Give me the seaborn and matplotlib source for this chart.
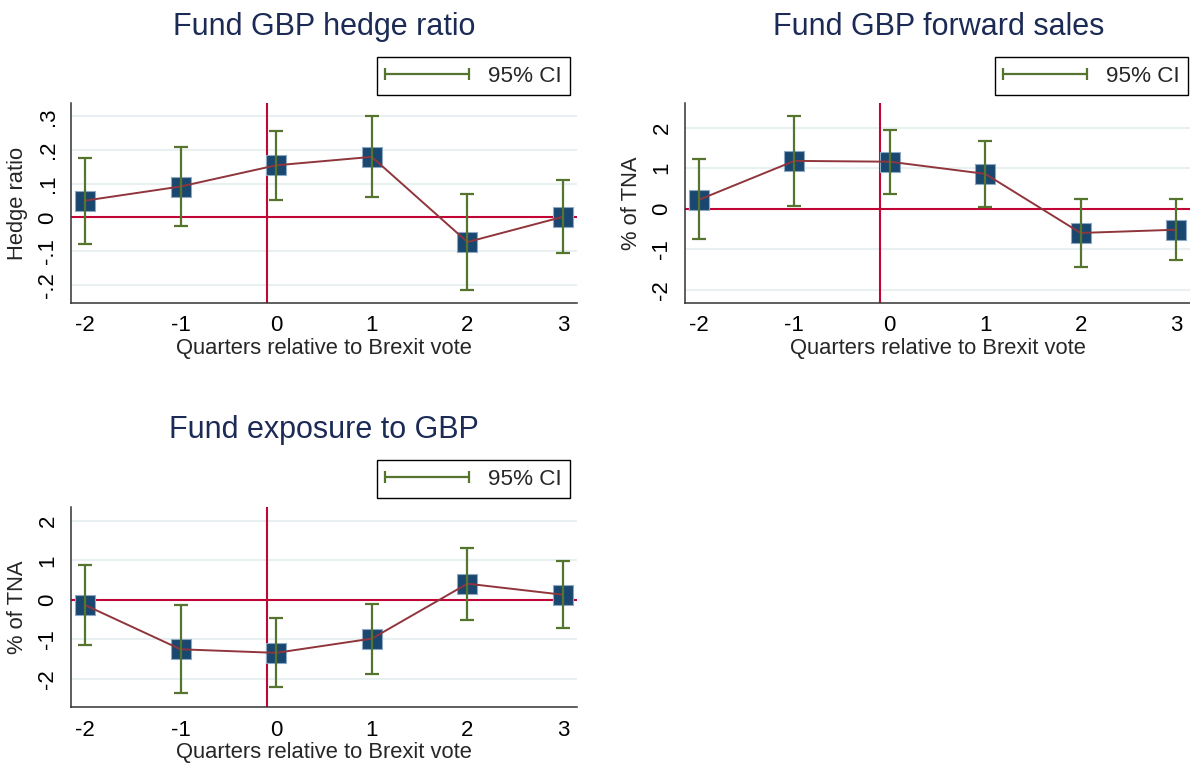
import numpy as np
import pandas as pd
import matplotlib
matplotlib.use("Agg")
import matplotlib.pyplot as plt
import seaborn as sns
from matplotlib.lines import Line2D
from matplotlib.legend_handler import HandlerLine2D

sns.set_style("white")
plt.rcParams['font.family'] = ['Liberation Sans', 'DejaVu Sans']

quarters = [-2, -1, 0, 1, 2, 3]

hedge_coef = [0.050, 0.092, 0.155, 0.180, -0.073, 0.002]
hedge_lo = [-0.078, -0.025, 0.051, 0.062, -0.215, -0.106]
hedge_hi = [0.177, 0.210, 0.258, 0.300, 0.069, 0.111]

fwd_coef = [0.22, 1.18, 1.16, 0.86, -0.60, -0.52]
fwd_lo = [-0.76, 0.07, 0.36, 0.03, -1.45, -1.26]
fwd_hi = [1.23, 2.28, 1.95, 1.68, 0.25, 0.25]

exp_coef = [-0.13, -1.25, -1.34, -0.98, 0.41, 0.13]
exp_lo = [-1.13, -2.36, -2.20, -1.87, -0.50, -0.71]
exp_hi = [0.87, -0.13, -0.47, -0.10, 1.32, 0.98]

titles = ["Fund GBP hedge ratio", "Fund GBP forward sales", "Fund exposure to GBP"]
ylabels = ["Hedge ratio", "% of TNA", "% of TNA"]
xlabel = "Quarters relative to Brexit vote"
legend_label = "95% CI"
hedge_ticks = [-0.2, -0.1, 0, 0.1, 0.2, 0.3]
hedge_ticklabels = ["-.2", "-.1", "0", ".1", ".2", ".3"]
tna_ticks = [-2, -1, 0, 1, 2]
tna_ticklabels = ["-2", "-1", "0", "1", "2"]
event_x = -0.1

W, H = 1190, 766
fig = plt.figure(figsize=(W / 100, H / 100), dpi=100)

NAVY = "#1a476f"
MAROON = "#90353b"
GREEN = "#55752f"
RED = "#c10534"
TITLE = "#1c2b55"
GRID = "#e8f0f2"
AXC = "#333333"

def rect(l, r, t, b):
    return [l / W, 1 - b / H, (r - l) / W, (b - t) / H]

panels = [
    dict(l=71, r=577, rect=rect(71, 577, 103, 303), coef=hedge_coef, lo=hedge_lo, hi=hedge_hi,
         ylim=(-0.254, 0.34), ticks=hedge_ticks, tl=hedge_ticklabels,
         leg=(570, 57), title_xy=(324, 27), ylab_x=28),
    dict(l=685, r=1190, rect=rect(685, 1190, 103, 303), coef=fwd_coef, lo=fwd_lo, hi=fwd_hi,
         ylim=(-2.33, 2.61), ticks=tna_ticks, tl=tna_ticklabels,
         leg=(1188, 57), title_xy=(939, 27), ylab_x=642),
    dict(l=71, r=577, rect=rect(71, 577, 507, 707), coef=exp_coef, lo=exp_lo, hi=exp_hi,
         ylim=(-2.71, 2.35), ticks=tna_ticks, tl=tna_ticklabels,
         leg=(570, 460), title_xy=(324, 430), ylab_x=28),
]

for i, p in enumerate(panels):
    ax = fig.add_axes(p["rect"])
    df = pd.DataFrame({"q": quarters, "b": p["coef"], "lo": p["lo"], "hi": p["hi"]})
    for t in p["ticks"]:
        if t != 0:
            ax.axhline(t, color=GRID, lw=1.5, zorder=0)
    ax.axhline(0, color=RED, lw=1.5, zorder=1)
    ax.axvline(event_x, color=RED, lw=1.5, zorder=1)
    sns.scatterplot(data=df, x="q", y="b", marker="s", s=215, color=NAVY,
                    edgecolor="#8ea9c3", linewidth=0.8, ax=ax, zorder=3, legend=False)
    sns.lineplot(data=df, x="q", y="b", color=MAROON, lw=1.4, ax=ax, zorder=4,
                 legend=False, errorbar=None)
    yerr = np.vstack([df["b"] - df["lo"], df["hi"] - df["b"]])
    ax.errorbar(df["q"], df["b"], yerr=yerr, fmt="none", ecolor=GREEN,
                elinewidth=1.6, capsize=5, capthick=1.6, zorder=5)
    ax.set_xlim(-2.146, 3.146)
    ax.set_ylim(*p["ylim"])
    ax.set_xticks(quarters)
    ax.set_xticklabels([str(q) for q in quarters])
    ax.set_yticks(p["ticks"])
    ax.set_yticklabels(p["tl"], rotation=90, va="center")
    ax.tick_params(axis="both", direction="out", length=6, width=1.1,
                   color=AXC, labelsize=16, labelcolor="black", pad=3)
    for s in ["top", "right"]:
        ax.spines[s].set_visible(False)
    for s in ["left", "bottom"]:
        ax.spines[s].set_color(AXC)
        ax.spines[s].set_linewidth(1.1)
    ax.set_xlabel(xlabel, fontsize=15.8, labelpad=1)
    ax.set_ylabel(ylabels[i], fontsize=15.8)
    ax.yaxis.set_label_coords((p["ylab_x"] - p["l"]) / (p["r"] - p["l"]), 0.5)
    fig.text(p["title_xy"][0] / W, 1 - p["title_xy"][1] / H, titles[i],
             fontsize=22, color=TITLE, ha="center", va="center")
    h = Line2D([0, 1], [0, 0], color=GREEN, lw=1.6, marker="|", markersize=9,
               markeredgewidth=1.6)
    lg = ax.legend([h], [legend_label], loc="upper right", numpoints=2,
                   handler_map={h: HandlerLine2D(marker_pad=0, numpoints=2)},
                   bbox_to_anchor=(p["leg"][0] / W, 1 - p["leg"][1] / H),
                   bbox_transform=fig.transFigure, borderaxespad=0,
                   fontsize=16.2, handlelength=3.7, handletextpad=0.85,
                   borderpad=0.38, fancybox=False, framealpha=1)
    lg.get_frame().set_edgecolor("black")
    lg.get_frame().set_linewidth(1.0)

fig.savefig("out.png", dpi=100, facecolor="white")
